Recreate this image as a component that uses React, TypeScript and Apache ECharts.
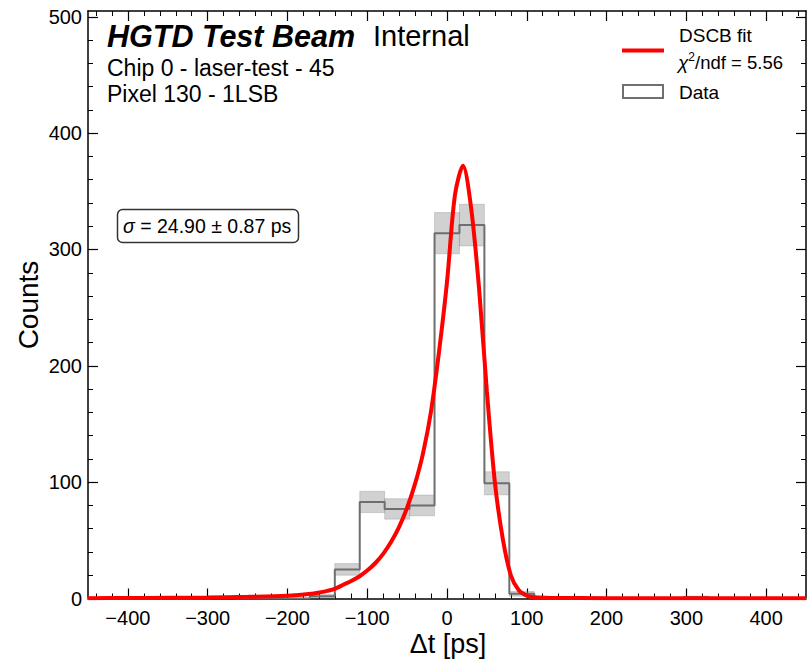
import React, { useEffect, useRef } from "react";
import * as echarts from "echarts";

// ---- data ----
const binWidth = 31.25;
const binCenters = [
  -437.5, -406.25, -375, -343.75, -312.5, -281.25, -250, -218.75, -187.5, -156.25,
  -125, -93.75, -62.5, -31.25, 0, 31.25, 62.5, 93.75, 125, 156.25,
  187.5, 218.75, 250, 281.25, 312.5, 343.75, 375, 406.25, 437.5,
];
const binCounts = [
  0, 0, 0, 0, 0, 1, 0, 0, 0, 2,
  25, 83, 77, 80, 314, 321, 99, 4, 0, 0,
  0, 0, 0, 0, 1, 0, 0, 0, 0,
];

// DSCB fit curve
const fitX = [
  -450, -400, -350, -300, -250, -200, -170, -160, -150, -140, -130, -120, -110, -100,
  -90, -80, -70, -60, -50, -40, -30, -20, -10, 0, 10, 20, 30, 40, 50, 60, 70, 80, 90,
  100, 110, 130, 200, 300, 450,
];
const fitY = [
  0.3, 0.4, 0.6, 0.9, 1.4, 2.4, 4, 5.2, 6.6, 8.5, 11.8, 15, 18.9, 24,
  30.3, 38.4, 48.7, 61.6, 78, 98.7, 125, 161, 212, 272, 347, 372, 337, 268, 178, 100, 51, 20, 7,
  2.5, 1, 0.5, 0.3, 0.25, 0.2,
];

const xMajorTicks = [-400, -300, -200, -100, 0, 100, 200, 300, 400];
const yMajorTicks = [0, 100, 200, 300, 400, 500];

const xMinorTicks: number[] = [];
for (let v = -440; v <= 440; v += 20) if (v % 100 !== 0) xMinorTicks.push(v);
const yMinorTicks: number[] = [];
for (let v = 20; v <= 500; v += 20) if (v % 100 !== 0) yMinorTicks.push(v);

const FONT = "'Liberation Sans', Arial, Helvetica, sans-serif";

export default function App() {
  const ref = useRef<HTMLDivElement>(null);

  useEffect(() => {
    if (!ref.current) return;
    const chart = echarts.init(ref.current, null, { renderer: "svg" });

    const outline: number[][] = [];
    binCenters.forEach((c, i) => {
      outline.push([c - binWidth / 2, binCounts[i]]);
      outline.push([c + binWidth / 2, binCounts[i]]);
    });
    const bands = binCenters
      .map((c, i) => [c - binWidth / 2, c + binWidth / 2, binCounts[i] - Math.sqrt(binCounts[i]), binCounts[i] + Math.sqrt(binCounts[i])])
      .filter((b, i) => binCounts[i] > 0);
    const fit = fitX.map((x, i) => [x, fitY[i]]);

    const axisCommon = {
      type: "value" as const,
      splitLine: { show: false },
    };
    const xBase = { ...axisCommon, min: -450, max: 450 };
    const yBase = { ...axisCommon, min: 0, max: 505 };
    const lineStyle = { color: "#000", width: 1.5 };

    const option: any = {
      animation: false,
      backgroundColor: "#fff",
      grid: { left: 88, top: 11, width: 718, height: 587.5, containLabel: false },
      xAxis: [
        {
          ...xBase,
          position: "bottom",
          axisLine: { show: true, onZero: false, lineStyle },
          axisTick: { show: true, inside: true, length: 10, customValues: xMajorTicks, lineStyle: { color: "#000", width: 1.2 } },
          axisLabel: {
            show: true,
            customValues: xMajorTicks,
            formatter: (v: number) => (v < 0 ? "\u2212" + Math.abs(v) : String(v)),
            fontSize: 20,
            color: "#000",
            fontFamily: FONT,
            margin: 9,
          },
        },
        {
          ...xBase,
          position: "bottom",
          axisLine: { show: false, onZero: false },
          axisTick: { show: true, inside: true, length: 5, customValues: xMinorTicks, lineStyle: { color: "#000", width: 1 } },
          axisLabel: { show: false },
        },
        {
          ...xBase,
          position: "top",
          axisLine: { show: true, onZero: false, lineStyle },
          axisTick: { show: true, inside: true, length: 10, customValues: xMajorTicks, lineStyle: { color: "#000", width: 1.2 } },
          axisLabel: { show: false },
        },
        {
          ...xBase,
          position: "top",
          axisLine: { show: false, onZero: false },
          axisTick: { show: true, inside: true, length: 5, customValues: xMinorTicks, lineStyle: { color: "#000", width: 1 } },
          axisLabel: { show: false },
        },
      ],
      yAxis: [
        {
          ...yBase,
          position: "left",
          axisLine: { show: true, onZero: false, lineStyle },
          axisTick: { show: true, inside: true, length: 10, customValues: yMajorTicks, lineStyle: { color: "#000", width: 1.2 } },
          axisLabel: { show: true, customValues: yMajorTicks, fontSize: 20, color: "#000", fontFamily: FONT, margin: 6 },
        },
        {
          ...yBase,
          position: "left",
          axisLine: { show: false, onZero: false },
          axisTick: { show: true, inside: true, length: 5, customValues: yMinorTicks, lineStyle: { color: "#000", width: 1 } },
          axisLabel: { show: false },
        },
        {
          ...yBase,
          position: "right",
          axisLine: { show: true, onZero: false, lineStyle },
          axisTick: { show: true, inside: true, length: 10, customValues: yMajorTicks, lineStyle: { color: "#000", width: 1.2 } },
          axisLabel: { show: false },
        },
        {
          ...yBase,
          position: "right",
          axisLine: { show: false, onZero: false },
          axisTick: { show: true, inside: true, length: 5, customValues: yMinorTicks, lineStyle: { color: "#000", width: 1 } },
          axisLabel: { show: false },
        },
      ],
      series: [
        {
          type: "custom",
          name: "band",
          xAxisIndex: 0,
          yAxisIndex: 0,
          clip: true,
          encode: { x: [0, 1], y: [2, 3] },
          data: bands,
          renderItem: (params: any, api: any) => {
            const p1 = api.coord([api.value(0), api.value(3)]);
            const p2 = api.coord([api.value(1), api.value(2)]);
            return {
              type: "rect",
              shape: { x: p1[0], y: p1[1], width: p2[0] - p1[0], height: p2[1] - p1[1] },
              style: { fill: "rgba(128,128,128,0.36)", stroke: "rgba(110,110,110,0.25)", lineWidth: 1 },
            };
          },
          z: 1,
        },
        {
          type: "line",
          name: "Data",
          xAxisIndex: 0,
          yAxisIndex: 0,
          data: outline,
          symbol: "none",
          clip: true,
          lineStyle: { color: "#6e6e6e", width: 2 },
          z: 2,
        },
        {
          type: "line",
          name: "DSCB fit",
          xAxisIndex: 0,
          yAxisIndex: 0,
          data: fit,
          symbol: "none",
          smooth: 0.3,
          clip: true,
          lineStyle: { color: "#ff0000", width: 4 },
          z: 3,
        },
      ],
      graphic: [
        {
          type: "text",
          x: 107,
          y: 36,
          style: { text: "HGTD Test Beam", fontSize: 30.5, fontWeight: "bold", fontStyle: "italic", fontFamily: FONT, fill: "#000", verticalAlign: "middle" },
        },
        {
          type: "text",
          x: 373,
          y: 36,
          style: { text: "Internal", fontSize: 29, fontFamily: FONT, fill: "#000", verticalAlign: "middle" },
        },
        {
          type: "text",
          x: 107,
          y: 68,
          style: { text: "Chip 0 - laser-test - 45", fontSize: 23, fontFamily: FONT, fill: "#000", verticalAlign: "middle" },
        },
        {
          type: "text",
          x: 107,
          y: 94,
          style: { text: "Pixel 130 - 1LSB", fontSize: 23, fontFamily: FONT, fill: "#000", verticalAlign: "middle" },
        },
        // legend
        {
          type: "line",
          shape: { x1: 622, y1: 50.5, x2: 664, y2: 50.5 },
          style: { stroke: "#ff0000", lineWidth: 4 },
        },
        {
          type: "text",
          x: 679,
          y: 35.5,
          style: { text: "DSCB fit", fontSize: 19, fontFamily: FONT, fill: "#000", verticalAlign: "middle" },
        },
        {
          type: "text",
          x: 678,
          y: 62,
          style: {
            text: "{c|\u03c7}{s|2}{t|/ndf = 5.56}",
            fontSize: 19,
            fontFamily: FONT,
            fill: "#000",
            verticalAlign: "middle",
            rich: {
              c: { fontSize: 19, fontStyle: "italic", fontFamily: FONT, fill: "#000" },
              s: { fontSize: 12, fontFamily: FONT, fill: "#000", padding: [0, 0, 11, 0] },
              t: { fontSize: 18.5, fontFamily: FONT, fill: "#000" },
            },
          },
        },
        {
          type: "rect",
          shape: { x: 623, y: 85, width: 40, height: 13 },
          style: { fill: "#fff", stroke: "#707070", lineWidth: 2 },
        },
        {
          type: "text",
          x: 679,
          y: 92,
          style: { text: "Data", fontSize: 19, fontFamily: FONT, fill: "#000", verticalAlign: "middle" },
        },
        // sigma box
        {
          type: "rect",
          shape: { x: 117.5, y: 209.5, width: 181, height: 33, r: 5 },
          style: { fill: "#fff", stroke: "#333", lineWidth: 1.5 },
          z: 10,
        },
        {
          type: "text",
          x: 123,
          y: 226,
          z: 11,
          style: {
            text: "{i|\u03c3} = 24.90 \u00b1 0.87 ps",
            fontSize: 19.5,
            fontFamily: FONT,
            fill: "#000",
            verticalAlign: "middle",
            rich: { i: { fontSize: 19.5, fontStyle: "italic", fontFamily: FONT, fill: "#000" } },
          },
        },
        // axis names
        {
          type: "text",
          x: 448,
          y: 644,
          style: { text: "\u0394t [ps]", fontSize: 27, fontFamily: FONT, fill: "#000", align: "center", verticalAlign: "middle" },
        },
        {
          type: "text",
          x: 28,
          y: 305,
          rotation: Math.PI / 2,
          style: { text: "Counts", fontSize: 28, fontFamily: FONT, fill: "#000", align: "center", verticalAlign: "middle" },
        },
      ],
    };

    chart.setOption(option);
    return () => chart.dispose();
  }, []);

  return <div ref={ref} style={{ position: "fixed", left: 0, top: 0, width: 807, height: 660 }} />;
}
